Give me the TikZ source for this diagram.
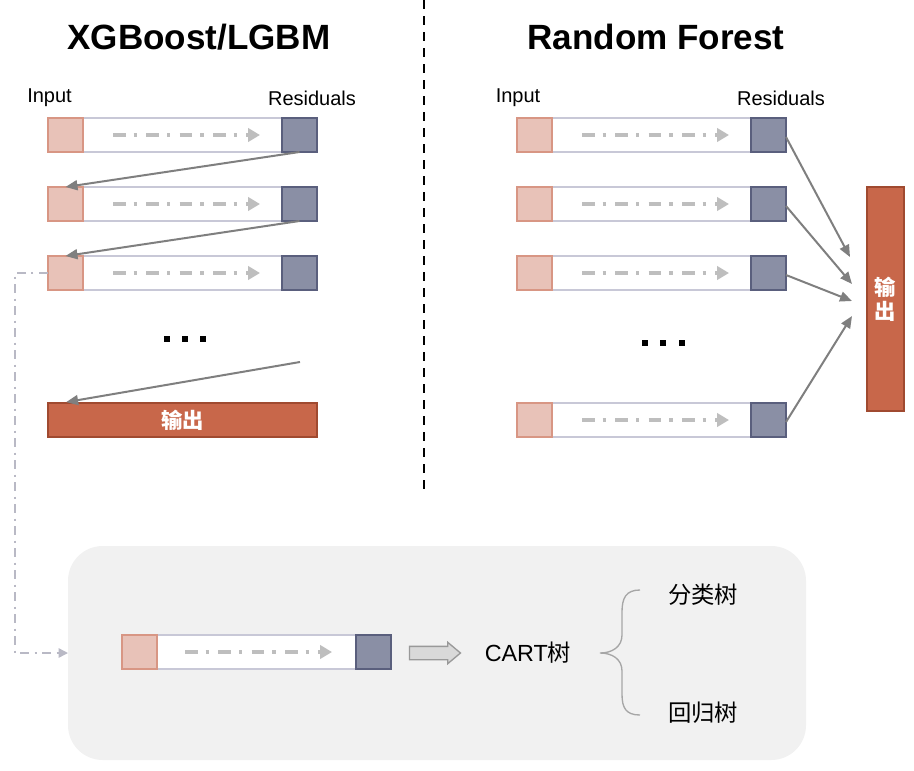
\documentclass[tikz,border=0pt]{standalone}
\usepackage{fontspec}
\setmainfont{Liberation Sans}
\newfontfamily\cjk{Noto Sans CJK SC}
\usetikzlibrary{arrows.meta,shapes.arrows}
\definecolor{inFill}{HTML}{E8C2B8}
\definecolor{inDraw}{HTML}{D89684}
\definecolor{resFill}{HTML}{8A8FA5}
\definecolor{resDraw}{HTML}{5A5F7D}
\definecolor{barDraw}{HTML}{C8C8D7}
\definecolor{outFill}{HTML}{C8674A}
\definecolor{outDraw}{HTML}{A04A30}
\definecolor{flowGray}{HTML}{BEBEBE}
\definecolor{connGray}{HTML}{7F7F7F}
\definecolor{panelFill}{HTML}{F1F1F1}
\tikzset{
  barouter/.style={draw=barDraw, line width=1.5pt, fill=white, inner sep=0pt, outer sep=0pt,
    minimum width=269*0.75pt, minimum height=34*0.75pt},
  inbox/.style={draw=inDraw, line width=1.3pt, fill=inFill, inner sep=0pt, outer sep=0pt,
    minimum width=35*0.75pt, minimum height=34*0.75pt},
  resbox/.style={draw=resDraw, line width=1.3pt, fill=resFill, inner sep=0pt, outer sep=0pt,
    minimum width=35*0.75pt, minimum height=34*0.75pt},
  flow/.style={draw=flowGray, line width=2.5pt, dash pattern=on 9.5pt off 6pt on 2.5pt off 7pt,
    -{Triangle[length=9pt,width=10pt,fill=flowGray]}},
  conn/.style={draw=connGray, line width=1.5pt, -{Triangle[length=9pt,width=7.5pt]}},
  outbox/.style={draw=outDraw, line width=1.3pt, fill=outFill, inner sep=0pt, text=white,
    font=\cjk\bfseries\fontsize{16pt}{18pt}\selectfont},
  lbl/.style={font=\fontsize{15pt}{18pt}\selectfont, inner sep=0pt},
  ttl/.style={font=\bfseries\fontsize{26.3pt}{30pt}\selectfont, inner sep=0pt},
  dotsq/.style={fill=black, inner sep=0pt, minimum size=5.2pt},
  loopline/.style={draw=barDraw!80!gray, line width=1.1pt, dash pattern=on 7pt off 4pt on 1.5pt off 4pt,
    -{Triangle[length=7pt,width=7pt]}},
  cjklbl/.style={font=\cjk\fontsize{17.5pt}{20pt}\selectfont, inner sep=0pt},
}
\newcommand\rowbar[4]{% name, x, y top, flow start px offset
  \node[barouter, anchor=north west] (#1) at (#2,#3) {};
  \node[inbox, anchor=north west] (#1in) at (#1.north west) {};
  \node[resbox, anchor=north east] (#1res) at (#1.north east) {};
  \draw[flow] ([xshift=#4*0.75pt]#1.west) -- ([xshift=(#4+147)*0.75pt]#1.west);
}
\begin{document}
\begin{tikzpicture}[x=0.75pt,y=-0.75pt]
\useasboundingbox (0,0) rectangle (914,771);

% titles
\node[ttl] (t1) at (199,37) {XGBoost/LGBM};
\node[ttl] (t2) at (656,37) {Random Forest};

% divider
\draw[line width=2.2pt, dash pattern=on 7pt off 5pt] (424,0) -- (424,492);

% labels
\node[lbl] (li) at (49.5,98) {Input};
\node[lbl] (lr) at (312,98) {Residuals};
\node[lbl] (ri) at (518,98) {Input};
\node[lbl] (rr) at (781,98) {Residuals};

% left rows
\rowbar{La}{48}{118}{65}
\rowbar{Lb}{48}{187}{65}
\rowbar{Lc}{48}{256}{65}
\node[outbox, minimum width=269*0.75pt, minimum height=34*0.75pt] (Lout) at (182.5,420) {输出};

\node[dotsq] (ld1) at (167,339) {};
\node[dotsq] (ld2) at (185,339) {};
\node[dotsq] (ld3) at (203,339) {};

\draw[conn] (Lares.south) -- (Lbin.north);
\draw[conn] (Lbres.south) -- (Lcin.north);
\coordinate (lfree) at (300,362);
\draw[conn] (lfree) -- ([xshift=19*0.75pt]Lout.north west);

% right rows
\rowbar{Ra}{517}{118}{65}
\rowbar{Rb}{517}{187}{65}
\rowbar{Rc}{517}{256}{65}
\rowbar{Rd}{517}{403}{65}
\node[outbox, minimum width=37*0.75pt, minimum height=224*0.75pt, align=center] (Rout) at (885.5,299) {输\\出};

\node[dotsq] (rd1) at (645,343) {};
\node[dotsq] (rd2) at (663,343) {};
\node[dotsq] (rd3) at (682,343) {};

\coordinate (e1) at (850,257);
\coordinate (e2) at (852,284);
\coordinate (e3) at (852,301);
\coordinate (e4) at (852,316);
\draw[conn] ([yshift=-2*0.75pt]Rares.east) -- (e1);
\draw[conn] ([yshift=-2*0.75pt]Rbres.east) -- (e2);
\draw[conn] ([yshift=-2*0.75pt]Rcres.east) -- (e3);
\draw[conn] ([yshift=-2*0.75pt]Rdres.east) -- (e4);

% bottom panel
\node[fill=panelFill, rounded corners=26pt, minimum width=738*0.75pt, minimum height=214*0.75pt,
  inner sep=0pt, outer sep=0pt] (panel) at (437,653) {};
\coordinate (lc) at (15,273);
\draw[loopline] (Lcin.west) -- (lc) |- (panel.west);

\rowbar{B}{122}{635}{63}
\node[single arrow, draw=connGray!80, fill=gray!30, line width=1pt, inner xsep=0pt, inner ysep=4.5pt,
  single arrow head extend=3pt, single arrow tip angle=80, minimum height=51*0.75pt] (big) at (431,653) {};
\node[font=\fontsize{17.5pt}{20pt}\selectfont, inner sep=0pt] (cart) at (528,653) {CART{\cjk 树}};
\node[cjklbl] (cls) at (703,595) {分类树};
\node[cjklbl] (reg) at (703,713) {回归树};

% brace
\draw[draw=gray!70, line width=1pt]
  (640,590) .. controls (626,590) and (622,598) .. (622,612)
  -- (622,635) .. controls (622,647) and (612,653) .. (600,653)
  .. controls (612,653) and (622,659) .. (622,671)
  -- (622,694) .. controls (622,708) and (626,715) .. (640,715);
\end{tikzpicture}
\end{document}
